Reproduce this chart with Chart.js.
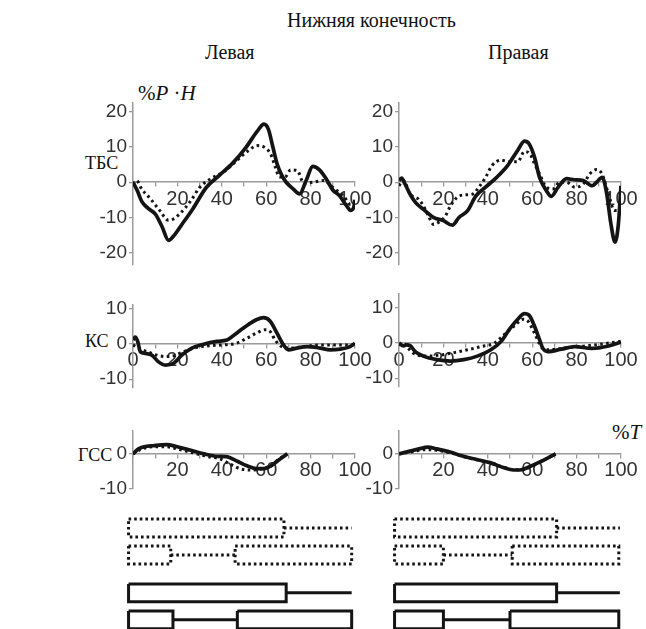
<!DOCTYPE html>
<html>
<head>
<meta charset="utf-8">
<script src="https://cdn.jsdelivr.net/npm/chart.js@4.4.1/dist/chart.umd.min.js"></script>
<style>
body { margin: 0; background: #fff; }
#fig { position: relative; width: 646px; height: 629px; overflow: hidden; font-family: "Liberation Serif", "Times New Roman", serif; color: #111; }
#fig canvas { position: absolute; }
.t { position: absolute; font-size: 20px; line-height: 1; white-space: nowrap; }
</style>
</head>
<body>
<div id="fig">
  <div class="t" style="left:287px;top:10px">Нижняя конечность</div>
  <div class="t" style="left:205px;top:42px">Левая</div>
  <div class="t" style="left:488px;top:42px">Правая</div>
  <div class="t" style="left:138px;top:83px;font-size:21px">%<i>P</i> ·<i>H</i></div>
  <div class="t" style="left:85px;top:154px;font-size:18px">ТБС</div>
  <div class="t" style="left:85px;top:332px;font-size:18px">КС</div>
  <div class="t" style="left:78px;top:446px;font-size:18px">ГСС</div>
  <div class="t" style="left:612px;top:422px;font-size:21px">%<i>T</i></div>
</div>
<script>
// ТБС
const tbsLeftSolidX = [0, 2, 4, 7, 10, 13, 16, 18, 22, 27, 33, 39, 45, 51, 56, 59, 61, 63, 65, 67, 69, 72, 75, 78, 81, 84, 87, 90, 93, 96, 98, 99.5, 100];
const tbsLeftSolidY = [0, -2.5, -5.5, -7.5, -9, -12.5, -16.5, -15.5, -12, -7.5, -1.5, 2, 5.5, 10, 14.5, 16.5, 15, 10, 5, 2, 0, -1.8, -3.3, 0.5, 4.5, 3.5, 1, -2.2, -3.8, -6.5, -8, -7, -5];
const tbsLeftDotX = [0, 1.5, 4, 8, 12, 16, 18, 21, 26, 30, 35, 41, 47, 52, 56, 59, 62, 64, 66, 68.5, 71, 74, 77, 81, 86, 90, 95, 98, 100];
const tbsLeftDotY = [-0.5, 0.5, -2, -4.8, -8, -10.8, -10.5, -9, -5.3, -1.5, 1, 3, 6.3, 9, 10.4, 10, 8, 4.5, 1.5, 1.5, 3.5, 3.3, -0.3, 0, 0.5, -1.5, -4, -6.3, -6];
const tbsRightSolidX = [0, 1.2, 2.7, 5, 7.5, 11, 15.5, 20, 24, 27, 31, 34.5, 39, 44, 49, 53.5, 56.5, 58.5, 61, 63.3, 66.4, 68.6, 71.7, 75.5, 79, 83, 87, 89, 91.5, 93.5, 95.5, 97.3, 98.8, 100];
const tbsRightSolidY = [0.5, 1.2, -0.5, -3.4, -5.8, -7.7, -10, -10.9, -12.2, -10, -8, -4, -1.4, 1.4, 4.8, 9.1, 11.7, 11, 7.2, 1.4, -2.4, -4, -1.4, 1, 0.7, 0.5, -1, 0, 1.4, -3, -12, -17, -12, -1];
const tbsRightDotX = [0, 2, 5, 8.8, 11, 13.3, 15.6, 18.6, 20.9, 23.2, 26.2, 29.2, 33, 36, 39, 42, 46, 49.7, 53.5, 56.5, 58.8, 61, 63.3, 66.4, 69.4, 72.4, 75.5, 79.2, 83, 86, 89, 91.4, 94.4, 97, 100];
const tbsRightDotY = [-1, 0.5, -3.4, -4.8, -6.7, -9.6, -12, -11, -9.6, -6.7, -4.3, -3.6, -3.4, -1.4, 1.4, 4.8, 6.3, 5.8, 5.8, 8.7, 8.2, 5.3, 2.4, -1.4, -1.9, 0, 0, -1.4, -0.5, 2.4, 3.6, 2.4, -3.4, -8, -8];
// КС
const ksLeftSolidX = [0, 1, 2.1, 3.3, 5.5, 8.5, 11.5, 14.5, 18.3, 22, 26.5, 31.8, 37.8, 42.3, 46.8, 52, 55.8, 58.8, 61.8, 64.8, 67.8, 70, 73.8, 78.3, 84.3, 88.8, 93.3, 97.8, 100];
const ksLeftSolidY = [1.1, 1.9, 0.7, -2.2, -2.7, -3.2, -5.1, -6, -5.5, -3.2, -1.2, -0.1, 0.7, 1.1, 3.1, 5.5, 6.9, 7.4, 6.4, 3.1, -0.3, -1.7, -1.2, -0.8, -1.2, -1.7, -1.5, -0.8, 0.2];
const ksLeftDotX = [0, 2.5, 6.3, 10.8, 14.5, 18.3, 22.8, 28.8, 34.8, 40.8, 46.8, 51.3, 55.8, 59.5, 61.8, 64, 67, 70.8, 76.8, 84.3, 91.8, 100];
const ksLeftDotY = [-0.3, -1.2, -2.2, -3.2, -3.6, -3.4, -2.2, -1, -0.5, -0.3, 0.2, 1.6, 3.1, 4, 3.5, 1.1, -0.8, -1.2, -0.8, -0.3, -0.3, -0.3];
const ksRightSolidX = [0, 2, 3.5, 5, 7.3, 11, 17, 23.2, 29.2, 35.3, 41.4, 46, 49.7, 53.5, 56.5, 58.8, 61, 63.3, 64.8, 67, 73.2, 79.2, 86.8, 94.4, 100];
const ksRightSolidY = [0, -0.8, -0.5, -0.7, -2.4, -3.7, -4.7, -5.1, -4.7, -3.7, -1.9, 0.5, 3.9, 6.8, 8.4, 7.8, 4.9, 1, -1.5, -2.4, -1.7, -1, -1.5, -0.8, 0.3];
const ksRightDotX = [0, 2, 4.2, 6.5, 12.6, 18.6, 24.7, 30.8, 36.8, 42.9, 47.4, 52, 55.8, 58, 61, 64, 67, 73.2, 80.8, 88.3, 100];
const ksRightDotY = [-0.5, 0, -1.5, -2.9, -3.7, -3.4, -2.7, -1.9, -1, 0, 2.4, 4.9, 6.8, 6.3, 2.9, -1, -1.9, -1.5, -1, -0.5, 0.5];
// ГСС
const gssLeftSolidX = [0, 2.5, 5, 9, 15, 20, 26, 32, 38, 42, 47, 51, 56, 59, 62, 65.5, 69.5];
const gssLeftSolidY = [0, 1.4, 2, 2.3, 2.6, 2, 1, 0, -0.7, -0.8, -2.1, -3.3, -4.2, -4.2, -3.5, -1.8, 0];
const gssLeftDotX = [0, 3.3, 9, 15, 21, 27, 33, 39, 44, 48, 53, 57, 62, 65.5, 69.5];
const gssLeftDotY = [0, 1.2, 2, 2, 1.2, 0.3, -0.7, -1.4, -3, -4.2, -4.6, -4.4, -3.3, -1.6, 0];
const gssRightSolidX = [0, 4.5, 9, 13, 17, 23, 29, 35, 41, 47, 51.5, 54.5, 59, 63.5, 70.5];
const gssRightSolidY = [0, 0.7, 1.4, 1.9, 1.4, 0.5, -0.7, -1.6, -2.5, -3.9, -4.6, -4.6, -3.6, -2.3, 0];
const gssRightDotX = [0, 6, 12, 17, 23, 29, 35, 41, 47, 52, 56, 60, 64, 70.5];
const gssRightDotY = [0, 0.6, 1.2, 1, 0.3, -0.8, -1.7, -2.6, -3.8, -4.5, -4.4, -3.5, -2.2, 0];

// tick labels shown on the x axes
const xLabelsTop = [20, 40, 60, 80, 100];
const xLabelsMid = [0, 20, 40, 60, 80, 100];
const xLabelsLow = [20, 40, 60, 80, 100];

// gait phases (% cycle): boxes and connecting lines, 4 rows per side
const leftBoxes = [[[-2, 68]], [[-2, 17], [46, 98.5]], [[-2, 69]], [[-2, 18], [47, 98.5]]];
const leftLinks = [[[68, 98.5]], [[17, 46]], [[69, 98.5]], [[18, 47]]];
const rightBoxes = [[[-2, 71]], [[-2, 20], [51, 99]], [[-2, 71]], [[-2, 20], [50, 99]]];
const rightLinks = [[[71, 99.5]], [[20, 51]], [[71, 99.5]], [[20, 50]]];
const rowLevels = [1, 2, 3.4, 4.4];
const rowDotted = [true, true, false, false];

const fig = document.getElementById('fig');
const AXIS = '#9a9a9a', LABEL = '#333', INK = '#141414';
const AXIS_W = 45, PAD_R = 40, PAD_V = 16, PLOT_W = 222, UNIT_Y = 3.52;
const DOT = [2.6, 3.4];

function pts(xs, ys) {
  return xs.map((x, i) => ({ x, y: ys[i] }));
}

function addCanvas(left, top, w, h) {
  const c = document.createElement('canvas');
  c.width = Math.round(w);
  c.height = Math.round(h);
  c.style.left = left + 'px';
  c.style.top = top + 'px';
  fig.appendChild(c);
  return c;
}

function panel(axisX, zeroY, yMin, yMax, shownX, solid, dotted) {
  const h = (yMax - yMin) * UNIT_Y + 2 * PAD_V;
  const c = addCanvas(axisX - AXIS_W, zeroY - yMax * UNIT_Y - PAD_V, AXIS_W + PLOT_W + PAD_R, h);
  const gridOpts = { drawOnChartArea: false, drawTicks: true, tickLength: 4, color: AXIS, lineWidth: 1.3 };
  const borderOpts = { display: true, color: AXIS, width: 1.5 };
  new Chart(c, {
    type: 'line',
    data: {
      datasets: [
        { data: solid, borderColor: INK, borderWidth: 3.7, cubicInterpolationMode: 'monotone', order: 0 },
        { data: dotted, borderColor: INK, borderWidth: 3, borderDash: DOT, cubicInterpolationMode: 'monotone', order: 1 }
      ]
    },
    options: {
      responsive: false, animation: false, devicePixelRatio: 1,
      layout: { padding: { left: 0, right: PAD_R, top: PAD_V, bottom: PAD_V } },
      elements: { point: { radius: 0 } },
      plugins: { legend: { display: false }, tooltip: { enabled: false } },
      scales: {
        x: {
          type: 'linear', min: 0, max: 100, position: { y: 0 },
          afterFit: s => { s.height = 0; },
          grid: gridOpts, border: borderOpts,
          ticks: { stepSize: 10, autoSkip: false, maxRotation: 0, padding: 1, color: LABEL,
            font: { family: 'Liberation Sans', size: 20 },
            callback: v => shownX.includes(v) ? String(v) : '' }
        },
        y: {
          type: 'linear', min: yMin, max: yMax, position: 'left',
          afterFit: s => { s.width = AXIS_W; },
          grid: gridOpts, border: borderOpts,
          ticks: { stepSize: 5, includeBounds: false, padding: 2, color: LABEL,
            font: { family: 'Liberation Sans', size: 19 },
            callback: v => v % 10 === 0 ? String(v) : '' }
        }
      }
    }
  });
}

panel(133, 182, -23.5, 22.5, xLabelsTop, pts(tbsLeftSolidX, tbsLeftSolidY), pts(tbsLeftDotX, tbsLeftDotY));
panel(399, 182, -23.5, 22.5, xLabelsTop, pts(tbsRightSolidX, tbsRightSolidY), pts(tbsRightDotX, tbsRightDotY));
panel(133, 344, -12.5, 11, xLabelsMid, pts(ksLeftSolidX, ksLeftSolidY), pts(ksLeftDotX, ksLeftDotY));
panel(399, 343, -12.5, 14, xLabelsMid, pts(ksRightSolidX, ksRightSolidY), pts(ksRightDotX, ksRightDotY));
panel(133, 454, -10, 6.5, xLabelsLow, pts(gssLeftSolidX, gssLeftSolidY), pts(gssLeftDotX, gssLeftDotY));
panel(399, 454, -10, 6.5, xLabelsLow, pts(gssRightSolidX, gssRightSolidY), pts(gssRightDotX, gssRightDotY));

// gait diagram
const HALF = 0.33;
function gait(axisX, boxes, links) {
  const c = addCanvas(axisX - 10, 495, PLOT_W + 20, 134);
  const sets = [];
  rowLevels.forEach((r, i) => {
    const style = { borderColor: INK, borderWidth: 3, borderDash: rowDotted[i] ? [2.6, 3] : [], showLine: true,
      tension: 0, pointRadius: 0, clip: false, borderJoinStyle: 'miter', fill: false };
    boxes[i].forEach(([a, b]) => sets.push(Object.assign({
      data: [{ x: a, y: r - HALF }, { x: b, y: r - HALF }, { x: b, y: r + HALF }, { x: a, y: r + HALF }, { x: a, y: r - HALF }]
    }, style)));
    links[i].forEach(([a, b]) => sets.push(Object.assign({
      data: [{ x: a, y: r }, { x: b, y: r }]
    }, style)));
  });
  new Chart(c, {
    type: 'scatter',
    data: { datasets: sets },
    options: {
      responsive: false, animation: false, devicePixelRatio: 1,
      layout: { padding: { left: 10, right: 10, top: 6, bottom: 0 } },
      plugins: { legend: { display: false }, tooltip: { enabled: false } },
      scales: {
        x: { type: 'linear', min: 0, max: 100, display: false },
        y: { type: 'linear', min: 0, max: 4.74, reverse: true, display: false }
      }
    }
  });
}
gait(133, leftBoxes, leftLinks);
gait(399, rightBoxes, rightLinks);
</script>
</body>
</html>
